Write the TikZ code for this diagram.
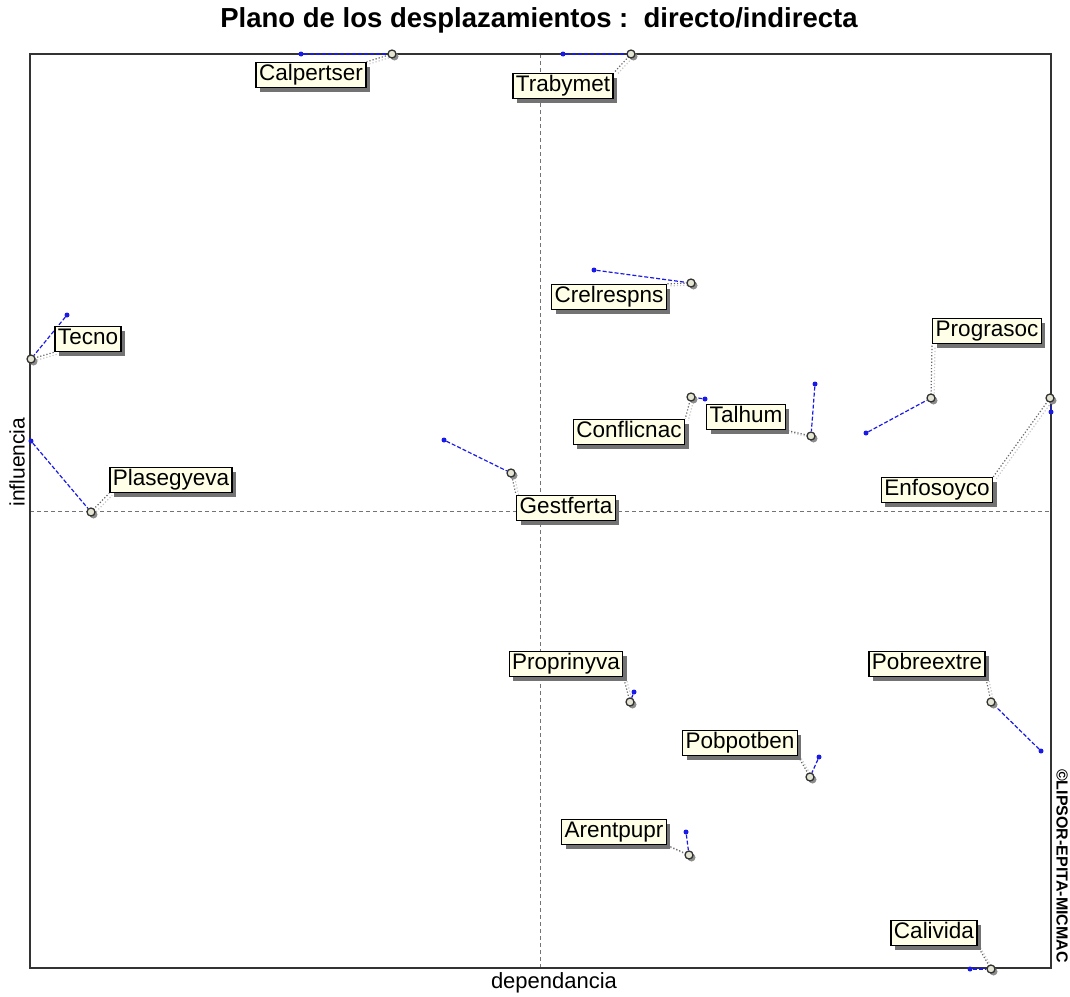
\documentclass[tikz,border=0pt]{standalone}
\usepackage{fontspec}
\setmainfont{Liberation Sans}
\usetikzlibrary{shadows,backgrounds}
\definecolor{labelfill}{HTML}{FFFFE8}
\definecolor{framegray}{HTML}{333333}
\definecolor{ptblue}{HTML}{1A1AE6}
\tikzset{
  varlabel/.style={draw=black, line width=1.4pt, fill=labelfill, inner xsep=3pt, inner ysep=2pt,
    text height=16pt, text depth=5pt, font=\fontsize{22.5}{25}\selectfont,
    drop shadow={shadow xshift=4pt, shadow yshift=-4pt, fill=black!55, opacity=1}},
  indpt/.style={circle, draw=black!80, line width=1.3pt, fill=labelfill!80!gray, minimum size=8pt,
    inner sep=0pt, drop shadow={shadow xshift=2.5pt, shadow yshift=-2.5pt, fill=black!45, opacity=1}},
  dirpt/.style={circle, fill=ptblue, minimum size=5pt, inner sep=0pt},
  shiftline/.style={ptblue, dash pattern=on 4pt off 2pt, line width=1.2pt},
  leader/.style={black!60, dotted, line width=1.2pt},
  leadershade/.style={black!22, dotted, line width=1.2pt},
  axisline/.style={black!55, dash pattern=on 4pt off 3pt, line width=0.8pt},
}
\begin{document}
\begin{tikzpicture}[x=1pt, y=-1pt]
\useasboundingbox (0,0) rectangle (1070,996);

% title and axis names
\node[font=\bfseries\fontsize{27.5}{30}\selectfont] (title) at (539,20) {Plano de los desplazamientos :\ \ directo/indirecta};
\node[font=\fontsize{22}{24}\selectfont] (xname) at (554,983) {dependancia};
\node[font=\fontsize{21}{24}\selectfont, rotate=90] (yname) at (17,462) {influencia};
\node[font=\bfseries\fontsize{16}{18}\selectfont, rotate=-90] (copy) at (1062,866) {©LIPSOR-EPITA-MICMAC};

% plotting frame and the two median axes
\begin{pgfonlayer}{background}
  \draw[axisline] (540,54) -- (540,968);
  \draw[axisline] (30,511) -- (1051,511);
  \draw[framegray, line width=2pt] (30,54) rectangle (1051,968);
\end{pgfonlayer}

% direct position, indirect position, label
\node[dirpt] (d1) at (301,54) {};
\node[indpt] (c1) at (392,54) {};
\node[varlabel] (l1) at (311,75) {Calpertser};

\node[dirpt] (d2) at (563,54) {};
\node[indpt] (c2) at (631,54) {};
\node[varlabel] (l2) at (563,86) {Trabymet};

\node[dirpt] (d3) at (594,270) {};
\node[indpt] (c3) at (691,283) {};
\node[varlabel] (l3) at (609,297) {Crelrespns};

\node[dirpt] (d4) at (67,315) {};
\node[indpt] (c4) at (31,359) {};
\node[varlabel] (l4) at (88,339) {Tecno};

\node[dirpt] (d5) at (866,433) {};
\node[indpt] (c5) at (931,398) {};
\node[varlabel] (l5) at (987,331) {Prograsoc};

\node[dirpt] (d6) at (1051,412) {};
\node[indpt] (c6) at (1050,398) {};
\node[varlabel] (l6) at (937,490) {Enfosoyco};

\node[dirpt] (d7) at (705,399) {};
\node[indpt] (c7) at (691,397) {};
\node[varlabel] (l7) at (629,432) {Conflicnac};

\node[dirpt] (d8) at (815,384) {};
\node[indpt] (c8) at (811,436) {};
\node[varlabel] (l8) at (746,417) {Talhum};

\node[dirpt] (d9) at (444,440) {};
\node[indpt] (c9) at (511,473) {};
\node[varlabel] (l9) at (566,508) {Gestferta};

\node[dirpt] (d10) at (31,441) {};
\node[indpt] (c10) at (91,512) {};
\node[varlabel] (l10) at (171,480) {Plasegyeva};

\node[dirpt] (d11) at (634,692) {};
\node[indpt] (c11) at (630,702) {};
\node[varlabel] (l11) at (566,664) {Proprinyva};

\node[dirpt] (d12) at (1041,751) {};
\node[indpt] (c12) at (991,702) {};
\node[varlabel] (l12) at (927,664) {Pobreextre};

\node[dirpt] (d13) at (819,757) {};
\node[indpt] (c13) at (810,777) {};
\node[varlabel] (l13) at (740,743) {Pobpotben};

\node[dirpt] (d14) at (686,832) {};
\node[indpt] (c14) at (689,855) {};
\node[varlabel] (l14) at (614,832) {Arentpupr};

\node[dirpt] (d15) at (970,969) {};
\node[indpt] (c15) at (991,969) {};
\node[varlabel] (l15) at (934,933) {Calivida};

% displacement lines and label leaders, under the markers
\begin{pgfonlayer}{background}
  \foreach \i/\a in {1/north east, 2/north east, 3/north east, 4/south west, 5/south west,
                     6/north east, 7/north east, 8/south east, 9/north west, 10/south west,
                     11/south east, 12/south east, 13/south east, 14/south east, 15/south east} {
    \draw[leadershade] ([xshift=3pt,yshift=-2pt]c\i.center) -- ([xshift=3pt,yshift=-2pt]l\i.\a);
    \draw[leader] (c\i.center) -- (l\i.\a);
    \draw[shiftline] (d\i) -- (c\i);
  }
\end{pgfonlayer}
\end{tikzpicture}
\end{document}
